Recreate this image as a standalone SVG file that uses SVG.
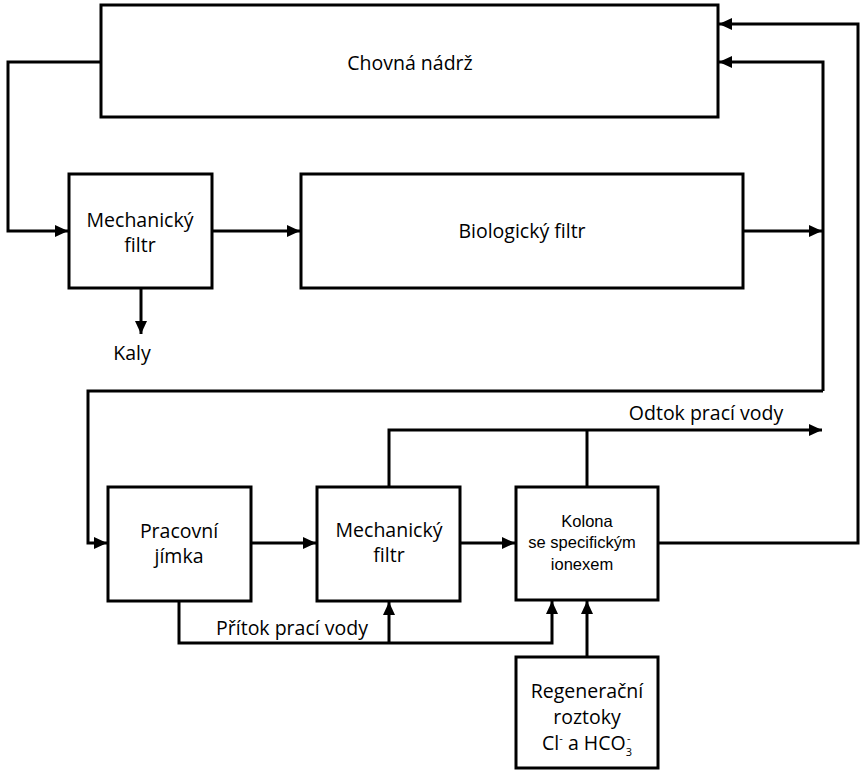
<svg xmlns="http://www.w3.org/2000/svg" width="861" height="771" viewBox="0 0 861 771">
<defs>
<marker id="ah" markerUnits="userSpaceOnUse" markerWidth="14" markerHeight="14" viewBox="0 0 14 14" refX="13" refY="7" orient="auto">
<path d="M0,1 L13,7 L0,13 Z" fill="#000"/>
</marker>
<style>
.box{fill:#fff;stroke:#000;stroke-width:3}
.c{fill:none;stroke:#000;stroke-width:3}
.a{marker-end:url(#ah)}
.t{font-family:"Open Sans","Liberation Sans",sans-serif;font-size:19.5px;fill:#000;text-anchor:middle}
.s{font-family:"Liberation Sans",Arial,sans-serif;font-size:16.5px;fill:#000;text-anchor:middle}
</style>
</defs>
<rect width="861" height="771" fill="#fff"/>
<g id="connectors">
<path class="c a" d="M101,62 H8 V231 H68"/>
<path class="c a" d="M212,231 H300"/>
<path class="c a" d="M141,288 V334"/>
<path class="c a" d="M743,231 H822"/>
<path class="c a" d="M823,391 V62 H719"/>
<path class="c a" d="M823,391 H88 V543 H107"/>
<path class="c a" d="M658,543 H858 V24 H719"/>
<path class="c a" d="M251,543 H316"/>
<path class="c a" d="M460,543 H515"/>
<path class="c a" d="M389,487 V430 H822"/>
<path class="c" d="M587,487 V430"/>
<path class="c a" d="M179,601 V643 H552 V601"/>
<path class="c a" d="M389,643 V602"/>
<path class="c a" d="M587,657 V601"/>
</g>
<g id="chovna">
<rect class="box" x="101" y="5" width="617" height="112"/>
<text class="t" x="410" y="70">Chovná nádrž</text>
</g>
<g id="mech1">
<rect class="box" x="69" y="174" width="143" height="114"/>
<text class="t" x="140" y="227">Mechanický</text>
<text class="t" x="140" y="252">filtr</text>
</g>
<g id="bio">
<rect class="box" x="301" y="174" width="442" height="114"/>
<text class="t" x="522" y="238">Biologický filtr</text>
</g>
<g id="kaly">
<text class="t" x="132" y="360">Kaly</text>
</g>
<g id="pracovni">
<rect class="box" x="108" y="487" width="143" height="114"/>
<text class="t" x="179" y="538">Pracovní</text>
<text class="t" x="179" y="563">jímka</text>
</g>
<g id="mech2">
<rect class="box" x="317" y="487" width="143" height="114"/>
<text class="t" x="389" y="537">Mechanický</text>
<text class="t" x="389" y="562">filtr</text>
</g>
<g id="kolona">
<rect class="box" x="516" y="487" width="142" height="113"/>
<text class="s" x="587" y="527">Kolona</text>
<text class="s" x="582" y="548">se specifickým</text>
<text class="s" x="582" y="570">ionexem</text>
</g>
<g id="regen">
<rect class="box" x="516" y="657" width="142" height="111"/>
<text class="t" x="587" y="698">Regenerační</text>
<text class="t" x="587" y="724">roztoky</text>
<text class="t" x="587" y="750">Cl<tspan font-size="11" dy="-8">-</tspan><tspan dy="8"> a HCO</tspan><tspan font-size="11" dy="6">3</tspan><tspan font-size="11" dx="-5" dy="-14">-</tspan></text>
</g>
<g id="labels">
<text class="t" x="292" y="635">Přítok prací vody</text>
<text class="t" x="706" y="420">Odtok prací vody</text>
</g>
</svg>
